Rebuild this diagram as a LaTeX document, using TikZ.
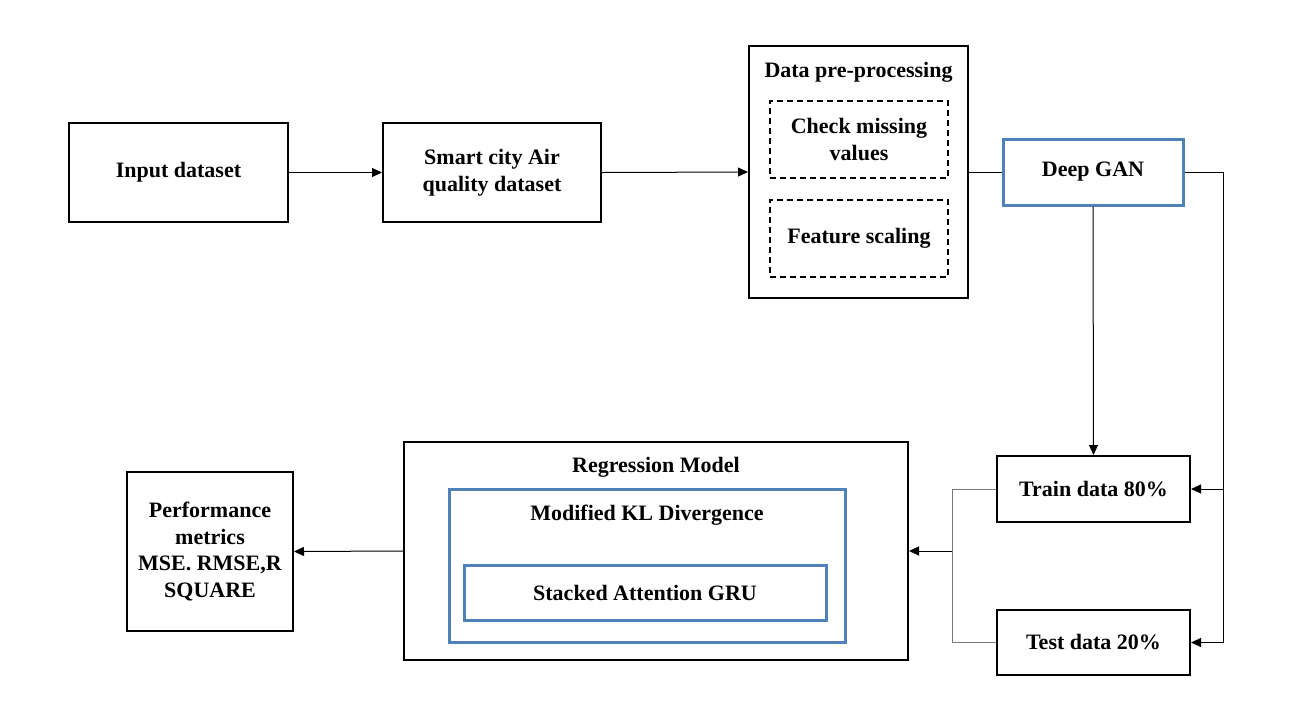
\documentclass[tikz,border=0pt]{standalone}
\usepackage{fontspec}
\setmainfont{Liberation Serif}
\usetikzlibrary{arrows.meta}
\definecolor{bbox}{RGB}{79,129,189}
\definecolor{lgray}{RGB}{120,120,120}
\begin{document}
\begin{tikzpicture}[x=0.5pt,y=-0.5pt,
  every node/.style={font=\fontsize{11}{13.4}\selectfont\bfseries, align=center},
  box/.style={draw=black, line width=1pt, inner sep=0pt},
  bluebox/.style={draw=bbox, line width=1.5pt, inner sep=0pt},
  dbox/.style={draw=black, line width=0.6pt, dashed, dash pattern=on 3pt off 2pt, inner sep=0pt},
  conn/.style={line width=0.5pt, draw=black},
  gconn/.style={line width=0.5pt, draw=lgray},
  arr/.style={-{Triangle[length=5pt,width=4.5pt]}}
]
\useasboundingbox (0,0) rectangle (1296,713);
\node[box, minimum width=109.5pt, minimum height=49.5pt] (inp) at (178.5,172.5) {Input dataset};
\node[box, minimum width=109pt, minimum height=49.5pt] (smart) at (492,172.5) {Smart city Air\\quality dataset};
\node[box, minimum width=109.5pt, minimum height=126pt] (pre) at (858.5,172) {};
\node (pret) at (858.5,72) {Data pre-processing};
\node[dbox, minimum width=89pt, minimum height=38.5pt] (chk) at (859,139.5) {Check missing\\values};
\node[dbox, minimum width=89pt, minimum height=38.5pt] (feat) at (859,238.5) {Feature scaling};
\node[bluebox, minimum width=90pt, minimum height=33pt] (gan) at (1093,172) {Deep GAN};
\node[box, minimum width=96.5pt, minimum height=33pt] (train) at (1093.5,489) {Train data 80\%};
\node[box, minimum width=96.5pt, minimum height=32.5pt] (test) at (1093.5,642.5) {Test data 20\%};
\node[box, minimum width=252pt, minimum height=109pt] (reg) at (656,551) {};
\node (regt) at (656,467) {Regression Model};
\node[bluebox, minimum width=198pt, minimum height=76.5pt] (kl) at (647,565.5) {};
\node (klt) at (647,515) {Modified KL Divergence};
\node[bluebox, minimum width=181pt, minimum height=27.5pt] (sag) at (645,592.5) {Stacked Attention GRU};
\node[box, minimum width=83pt, minimum height=79.5pt] (perf) at (210,551.5) {Performance\\metrics\\MSE. RMSE,R\\SQUARE};

\coordinate (rr) at (1223,172);
\coordinate (sp) at (952,551);

\draw[conn, arr] (inp.east) -- (smart.west);
\draw[conn, arr] (smart.east) -- (pre.west);
\draw[conn] (pre.east) -- (gan.west);
\draw[conn, arr] (gan.south) -- (train.north);
\draw[conn] (gan.east) -- (rr);
\draw[conn, arr] (rr) |- (train.east);
\draw[conn, arr] (rr) |- (test.east);
\draw[gconn] (train.west) -| (sp |- test.west) -- (test.west);
\draw[conn, arr] (sp) -- (reg.east);
\draw[conn, arr] (reg.west) -- (perf.east);
\end{tikzpicture}
\end{document}
